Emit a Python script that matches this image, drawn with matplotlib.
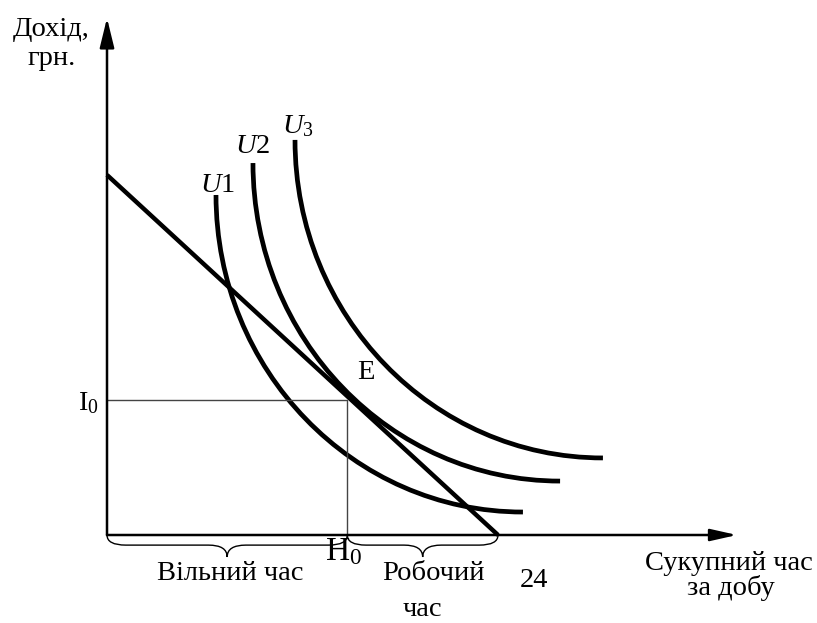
import numpy as np
import matplotlib
matplotlib.use('Agg')
import matplotlib.pyplot as plt
from matplotlib.path import Path
from matplotlib.patches import PathPatch

plt.rcParams['font.family'] = ['Liberation Serif', 'DejaVu Serif']
plt.rcParams['mathtext.fontset'] = 'custom'
plt.rcParams['mathtext.rm'] = 'Liberation Serif'
plt.rcParams['mathtext.it'] = 'Liberation Serif:italic'

# budget line (hours, income)
budget_x = [0, 24]
budget_y = [22.1, 0]
H0 = 14.75
I0 = 8.3
DAY = 24

# indifference curves: top (start) and right (end) points
curve_names = ['U1', 'U2', 'U3']
curve_start_x = [6.69, 8.96, 11.54]
curve_start_y = [20.87, 22.83, 24.25]
curve_end_x = [25.53, 27.81, 30.44]
curve_end_y = [1.41, 3.31, 4.73]

x_max = 38.67
y_max = 31.73

KAPPA = 0.5523  # cubic bezier quarter-ellipse


def quarter_curve(x0, y0, x1, y1):
    # vertical tangent at the top, horizontal at the right end
    verts = [(x0, y0), (x0, y0 - KAPPA * (y0 - y1)),
             (x1 - KAPPA * (x1 - x0), y1), (x1, y1)]
    codes = [Path.MOVETO, Path.CURVE4, Path.CURVE4, Path.CURVE4]
    return Path(verts, codes)


def brace(ax, x0, x1, h=0.62, t=1.35, r=1.15):
    xm = (x0 + x1) / 2
    verts = [(x0, 0), (x0, -h), (x0 + r, -h), (xm - r, -h), (xm, -h), (xm, -t),
             (xm, -h), (xm + r, -h), (x1 - r, -h), (x1, -h), (x1, 0)]
    codes = [Path.MOVETO, Path.CURVE3, Path.CURVE3, Path.LINETO, Path.CURVE3, Path.CURVE3,
             Path.CURVE3, Path.CURVE3, Path.LINETO, Path.CURVE3, Path.CURVE3]
    ax.add_patch(PathPatch(Path(verts, codes), fill=False, lw=1.0, edgecolor='k'))


fig = plt.figure(figsize=(8.17, 6.23), dpi=100)
ax = fig.add_axes([0, 0, 1, 1])
ax.set_xlim(-6.568, 43.58)
ax.set_ylim(-5.401, 32.838)
ax.axis('off')

# axes with arrows
ax.annotate('', xy=(0, y_max), xytext=(0, 0),
            arrowprops=dict(arrowstyle='-|>,head_length=0.9,head_width=0.22',
                            mutation_scale=20, lw=1.8, color='k', shrinkA=0, shrinkB=0))
ax.annotate('', xy=(x_max, 0), xytext=(0, 0),
            arrowprops=dict(arrowstyle='-|>,head_length=0.8,head_width=0.18',
                            mutation_scale=20, lw=1.8, color='k', shrinkA=0, shrinkB=0))

# I0 / H0 guide lines
ax.plot([0, H0, H0], [I0, I0, 0], color='#444444', lw=1.0)

ax.plot(budget_x, budget_y, color='k', lw=3.2, solid_capstyle='butt')
for x0, y0, x1, y1 in zip(curve_start_x, curve_start_y, curve_end_x, curve_end_y):
    ax.add_patch(PathPatch(quarter_curve(x0, y0, x1, y1), fill=False, lw=3.4,
                           edgecolor='k', capstyle='butt'))

brace(ax, 0, H0)
brace(ax, H0, DAY)

fs = 20.5
ax.text(-3.4, 30.63, 'Дохід,', fontsize=fs, ha='center', va='baseline')
ax.text(-3.4, 28.85, 'грн.', fontsize=fs, ha='center', va='baseline')
ax.text(5.71, 21.05, '$U$1', fontsize=fs, ha='left', va='baseline')
ax.text(7.86, 23.45, '$U$2', fontsize=fs, ha='left', va='baseline')
ax.text(10.74, 24.67, '$U_3$', fontsize=fs, ha='left', va='baseline')
ax.text(15.35, 9.58, 'E', fontsize=fs, ha='left', va='baseline')
ax.text(-1.78, 7.67, r'$\mathrm{I}_0$', fontsize=fs, ha='left', va='baseline')
ax.text(13.38, -1.53, r'$\mathrm{H}_0$', fontsize=24, ha='left', va='baseline')
ax.text(7.55, -2.76, 'Вільний час', fontsize=fs, ha='center', va='baseline')
ax.text(20.01, -2.76, 'Робочий', fontsize=fs, ha='center', va='baseline')
ax.text(19.33, -4.95, 'час', fontsize=fs, ha='center', va='baseline')
ax.text(26.2, -3.19, str(DAY), fontsize=fs, ha='center', va='baseline')
ax.text(38.18, -2.15, 'Сукупний час', fontsize=fs, ha='center', va='baseline')
ax.text(38.3, -3.68, 'за добу', fontsize=fs, ha='center', va='baseline')

fig.savefig('out.png', dpi=100)
